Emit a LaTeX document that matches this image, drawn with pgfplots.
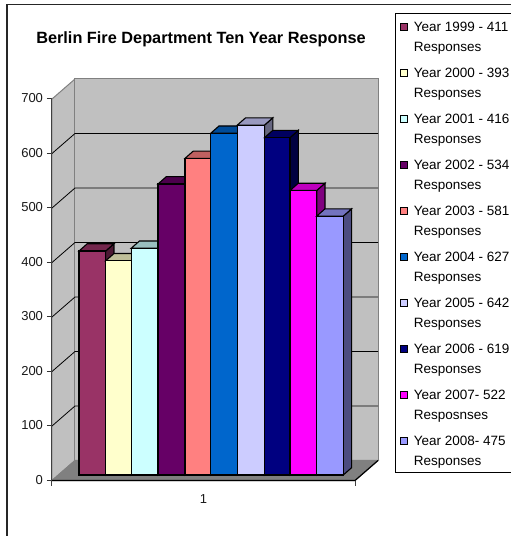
\documentclass[border=0pt]{standalone}
\usepackage{fontspec}
\setmainfont{Liberation Sans}
\usepackage{pgfplots}
\pgfplotsset{compat=1.18}
\definecolor{wall}{HTML}{C0C0C0}
\definecolor{floorc}{HTML}{808080}
\definecolor{c1}{HTML}{993366}
\definecolor{c2}{HTML}{FFFFCC}
\definecolor{c3}{HTML}{CCFFFF}
\definecolor{c4}{HTML}{660066}
\definecolor{c5}{HTML}{FF8080}
\definecolor{c6}{HTML}{0066CC}
\definecolor{c7}{HTML}{CCCCFF}
\definecolor{c8}{HTML}{000080}
\definecolor{c9}{HTML}{FF00FF}
\definecolor{c10}{HTML}{9999FF}
\newcommand\twolines[2]{\parbox[t]{110pt}{\fontsize{13.5}{20.3}\selectfont\strut\hspace*{4pt}#1\\\strut\hspace*{4pt}#2}}
% #1 left, #2 right, #3 value, #4 colour, #5 #6 legend text
\newcommand\threedbar[6]{%
  \pgfmathsetmacro\xb{#2+8.3}%
  \pgfmathsetmacro\xa{#1+8.3}%
  \pgfmathsetmacro\vt{#3+13.4}%
  \addplot[forget plot,draw=black,line width=1.1pt,fill=#4!50!black,yshift=5.5pt]
    coordinates {(#2,0) (\xb,13.4) (\xb,\vt) (#2,#3)} -- cycle;
  \addplot[forget plot,draw=black,line width=1.1pt,fill=#4!75!black,yshift=5.5pt]
    coordinates {(#1,#3) (#2,#3) (\xb,\vt) (\xa,\vt)} -- cycle;
  \addplot[draw=black,line width=1.1pt,fill=#4,yshift=5.5pt,
    legend image code/.code={\draw[black,line width=1pt,fill=#4] (0pt,-11pt) rectangle (7pt,-4pt);}]
    coordinates {(#1,0) (#1,#3) (#2,#3) (#2,0)} -- cycle;
  \addlegendentry{\twolines{#5}{#6}}%
}
\begin{document}
\begin{tikzpicture}[x=1pt,y=1pt]
\path[use as bounding box,fill=white] (-52,-55.5) rectangle (459,480.5);
\draw[line width=1.5pt,black!85] (-45,-60) -- (-45,476) -- (465,476);
\draw[line width=0.8pt,black] (465,467.5) -- (343.5,467.5) -- (343.5,8.5) -- (465,8.5);
\begin{axis}[
  at={(0,0)},anchor=south west,
  scale only axis,width=303pt,height=381.5pt,
  xmin=52,xmax=355,ymin=0,ymax=700,
  clip=false,
  axis x line*=bottom,axis y line*=left,
  axis line style={-,draw=black!70,line width=1pt},
  ytick={0,100,...,700},
  xtick={203.5},xticklabels={1},
  x tick style={draw=none},
  y tick style={draw=black!80,line width=1pt},
  tick align=outside,major tick length=5pt,
  ticklabel style={font=\fontsize{13}{15}\selectfont,text=black!90},
  /pgf/number format/assume math mode=true,
  yticklabel style={xshift=-0.5pt,yshift=0.5pt},
  xticklabel style={yshift=-6pt},
  title style={at={(axis cs:201,0)},anchor=center,yshift=435.5pt,
    font=\bfseries\fontsize{16.3}{18}\selectfont},
  title={Berlin Fire Department Ten Year Response},
  legend style={at={(axis cs:399.7,854)},anchor=north west,draw=none,fill=none,
    inner xsep=0pt,inner ysep=0pt,
    row sep=26.3pt},
  legend cell align=left,
]
% walls and floor
\addplot[forget plot,fill=wall,draw=floorc,line width=1pt] coordinates {(52,0)(75,36.7)(75,736.7)(52,700)} -- cycle;
\addplot[forget plot,fill=wall,draw=floorc,line width=1pt] coordinates {(75,36.7)(378,36.7)(378,736.7)(75,736.7)} -- cycle;
\addplot[forget plot,fill=floorc,draw=floorc,line width=1pt] coordinates {(52,0)(355,0)(378,36.7)(75,36.7)} -- cycle;
% gridlines
\pgfplotsinvokeforeach{100,200,...,600}{
  \pgfmathsetmacro\gy{#1+36.7}
  \addplot[forget plot,black,line width=0.8pt] coordinates {(52,#1)(75,\gy)(378,\gy)};
}
\addplot[forget plot,black,line width=1.2pt] coordinates {(52,0)(355,0)(378,36.7)};
\addplot[forget plot,black!75,line width=1pt] coordinates {(52,0)(52,700)};
\addplot[forget plot,black!75,line width=1pt] coordinates {(52,0)(52,-10)};
\addplot[forget plot,black!75,line width=1pt] coordinates {(355,0)(355,-10)};
% bars
\threedbar{79}{105.7}{411}{c1}{Year 1999 - 411}{Responses}
\threedbar{105.7}{131.2}{393}{c2}{Year 2000 - 393}{Responses}
\threedbar{131.2}{158}{416}{c3}{Year 2001 - 416}{Responses}
\threedbar{158}{185}{534}{c4}{Year 2002 - 534}{Responses}
\threedbar{185}{210.7}{581}{c5}{Year 2003 - 581}{Responses}
\threedbar{210.7}{237.3}{627}{c6}{Year 2004 - 627}{Responses}
\threedbar{237.3}{264.5}{642}{c7}{Year 2005 - 642}{Responses}
\threedbar{264.5}{290}{619}{c8}{Year 2006 - 619}{Responses}
\threedbar{290}{316.7}{522}{c9}{Year 2007- 522}{Resposnses}
\threedbar{316.7}{343.3}{475}{c10}{Year 2008- 475}{Responses}
\end{axis}
\end{tikzpicture}
\end{document}
